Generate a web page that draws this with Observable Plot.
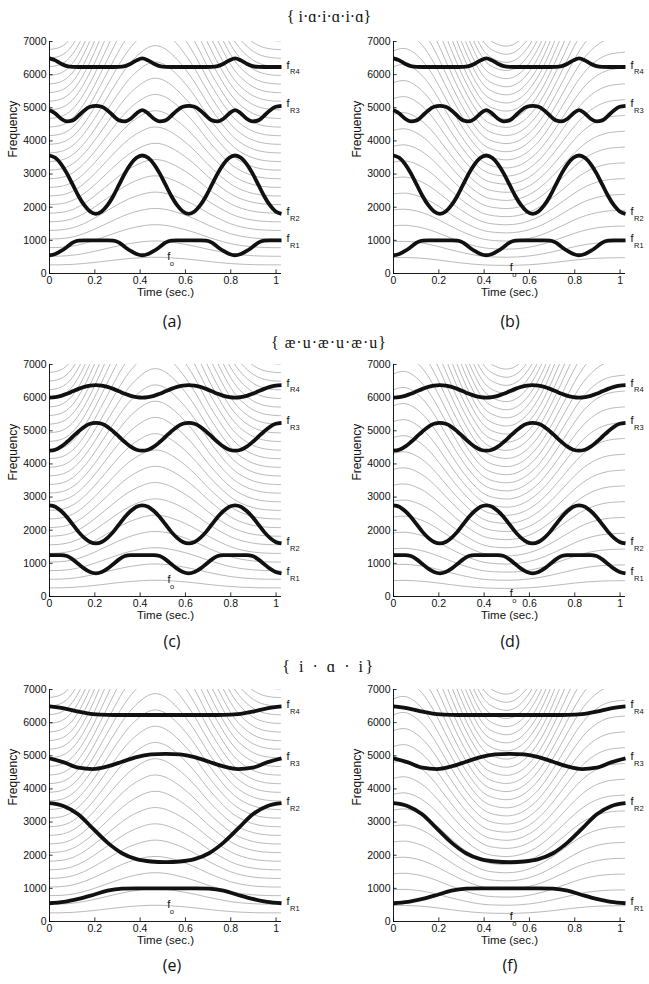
<!DOCTYPE html>
<html><head><meta charset="utf-8">
<script src="https://cdn.jsdelivr.net/npm/d3@7"></script>
<script src="https://cdn.jsdelivr.net/npm/@observablehq/plot@0.6"></script>
<style>
body{margin:0;background:#fff;}
#fig{position:relative;width:649px;height:984px;overflow:hidden;background:#fff;}
.panel{position:absolute;width:325px;height:300px;}
.panel svg{max-width:none !important;display:block;}
.title{position:absolute;font-family:"Liberation Serif","DejaVu Serif",serif;font-size:16px;transform:translate(-50%,-50%);white-space:pre;color:#111;}
.plabel{position:absolute;font-family:"Open Sans",sans-serif;font-size:16px;transform:translate(-50%,-50%);color:#111;}
</style></head><body><div id="fig"></div>
<script>
// ---------- data ----------
const titles = ["{ i·ɑ·i·ɑ·i·ɑ}", "{ æ·u·æ·u·æ·u}", "{ i · ɑ · i}"];
const panelNames = ["(a)", "(b)", "(c)", "(d)", "(e)", "(f)"];
const xTicks = [0, 0.2, 0.4, 0.6, 0.8, 1];
const yTicks = [0, 1000, 2000, 3000, 4000, 5000, 6000, 7000];
const resLabels = ["R1", "R2", "R3", "R4"];
const harmonicNumbers = [1,2,3,4,5,6,7,8,9,10,11,12,13,14,15,16,17,18,19,20,21,22,23,24,25,26,27,28,29,30];

// fundamental frequency tracks
const tF0 = [0,0.05,0.1,0.15,0.2,0.25,0.3,0.35,0.4,0.45,0.5,0.55,0.6,0.65,0.7,0.75,0.8,0.85,0.9,0.95,1.0,1.024];
const f0Rise = [260,263,275,300,335,375,415,450,475,490,487,468,440,405,365,330,300,280,268,262,260,260];
const f0Fall = [480,485,472,445,405,360,318,283,258,248,245,250,265,290,325,365,405,438,460,472,476,477];

// resonance tracks, fast sequences
const tFast = [0,0.0256,0.0512,0.0768,0.1024,0.128,0.1536,0.1792,0.2048,0.2304,0.256,0.2816,0.3072,0.3328,0.3584,0.384,0.4096,0.4352,0.4608,0.4864,0.512,0.5376,0.5632,0.5888,0.6144,0.64,0.6656,0.6912,0.7168,0.7424,0.768,0.7936,0.8192,0.8448,0.8704,0.896,0.9216,0.9472,0.9728,0.9984,1.024];
const ia_R1 = [550,590,680,800,930,990,1000,1000,1000, 1000,1000,990,930,800,680,590,550, 590,680,800,930,990,1000,1000,1000, 1000,1000,990,930,800,680,590,550, 590,680,800,930,990,1000,1000,1000];
const ia_R2 = [3560,3490,3300,3020,2680,2340,2060,1870,1800, 1870,2060,2340,2680,3020,3300,3490,3560, 3490,3300,3020,2680,2340,2060,1870,1800, 1870,2060,2340,2680,3020,3300,3490,3560, 3490,3300,3020,2680,2340,2060,1870,1800];
const ia_R3 = [4930,4830,4670,4590,4620,4760,4920,5030,5060, 5030,4920,4760,4620,4590,4670,4830,4930, 4830,4670,4590,4620,4760,4920,5030,5060, 5030,4920,4760,4620,4590,4670,4830,4930, 4830,4670,4590,4620,4760,4920,5030,5060];
const ia_R4 = [6490,6430,6330,6255,6232,6230,6230,6230,6230, 6230,6230,6230,6232,6255,6330,6430,6490, 6430,6330,6255,6232,6230,6230,6230,6230, 6230,6230,6230,6232,6255,6330,6430,6490, 6430,6330,6255,6232,6230,6230,6230,6230];
const au_R1 = [1250,1250,1250,1220,1120,980,840,740,700, 740,840,980,1120,1220,1250,1250,1250, 1250,1250,1220,1120,980,840,740,700, 740,840,980,1120,1220,1250,1250,1250, 1250,1250,1220,1120,980,840,740,700];
const au_R2 = [2750,2710,2580,2400,2175,1950,1770,1645,1600, 1645,1770,1950,2175,2400,2580,2710,2750, 2710,2580,2400,2175,1950,1770,1645,1600, 1645,1770,1950,2175,2400,2580,2710,2750, 2710,2580,2400,2175,1950,1770,1645,1600];
const au_R3 = [4400,4430,4520,4660,4820,4980,5120,5210,5240, 5210,5120,4980,4820,4660,4520,4430,4400, 4430,4520,4660,4820,4980,5120,5210,5240, 5210,5120,4980,4820,4660,4520,4430,4400, 4430,4520,4660,4820,4980,5120,5210,5240];
const au_R4 = [6000,6015,6055,6115,6190,6265,6325,6365,6380, 6365,6325,6265,6190,6115,6055,6015,6000, 6015,6055,6115,6190,6265,6325,6365,6380, 6365,6325,6265,6190,6115,6055,6015,6000, 6015,6055,6115,6190,6265,6325,6365,6380];

// resonance tracks, slow sequence
const tSlow = [0,0.064,0.128,0.192,0.256,0.32,0.384,0.448,0.512,0.576,0.64,0.704,0.768,0.832,0.896,0.96,1.024];
const iai_R1 = [550,590,680,800,930,990,1000,1000,1000,1000,1000,990,930,800,680,590,550];
const iai_R2 = [3570,3480,3230,2800,2380,2060,1880,1810,1790,1810,1880,2060,2380,2800,3230,3480,3570];
const iai_R3 = [4920,4800,4640,4600,4680,4820,4960,5040,5060,5040,4960,4820,4680,4600,4640,4800,4920];
const iai_R4 = [6490,6430,6330,6255,6232,6230,6230,6230,6230,6230,6230,6230,6232,6255,6330,6430,6490];

// f0 label anchors (time, frequency) per panel
const f0LabelT = [0.527, 0.52, 0.528, 0.52, 0.527, 0.52];
const f0LabelF = [505, 180, 502, 80, 502, 150];

// ---------- layout ----------
const fig = document.getElementById("fig");
const colLeft = [0, 343.7];
const rowTop = [0, 323.4, 648.4];
const titleY = [16.7, 343.3, 666.7];
const titleSpacing = ["0px", "1px", "2.5px"];
const labelY = [321, 641, 965];
const labelX = [172, 510];

const sets = [
  {t: tFast, R: [ia_R1, ia_R2, ia_R3, ia_R4]},
  {t: tFast, R: [au_R1, au_R2, au_R3, au_R4]},
  {t: tSlow, R: [iai_R1, iai_R2, iai_R3, iai_R4]}
];

function makePanel(set, f0, pIndex) {
  const harm = [];
  for (const k of harmonicNumbers) tF0.forEach((t, i) => harm.push({k, t, f: k * f0[i]}));
  const res = [];
  set.R.forEach((arr, j) => arr.forEach((v, i) => res.push({r: j + 1, t: set.t[i], f: v})));
  const tEnd = set.t[set.t.length - 1];
  const ends = set.R.map((arr, j) => ({t: tEnd, f: arr[arr.length - 1], sub: resLabels[j]}));
  const f0lab = [{t: f0LabelT[pIndex], f: f0LabelF[pIndex]}];
  const txt = {fill: "#111", fontFamily: "Liberation Sans, Arial, sans-serif"};
  return Plot.plot({
    width: 325, height: 300,
    marginLeft: 49, marginRight: 44, marginTop: 41, marginBottom: 27,
    x: {domain: [0, 1.024]},
    y: {domain: [0, 7000]},
    style: {fontFamily: "Liberation Sans, Arial, sans-serif", fontSize: "10.5px", background: "transparent", overflow: "visible", color: "#111"},
    marks: [
      Plot.line(harm, {x: "t", y: "f", z: "k", stroke: "#a3a3a3", strokeWidth: 0.75, curve: "natural", clip: true}),
      Plot.line(res, {x: "t", y: "f", z: "r", stroke: "#111", strokeWidth: 3.8, curve: "monotone-x", strokeLinecap: "butt"}),
      Plot.ruleX([0], {stroke: "#000", strokeWidth: 0.9}),
      Plot.ruleY([0], {stroke: "#000", strokeWidth: 0.9}),
      Plot.ruleX(xTicks, {y1: 0, y2: 110, stroke: "#000", strokeWidth: 0.8}),
      Plot.ruleY(yTicks, {x1: 0, x2: 0.016, stroke: "#000", strokeWidth: 0.8}),
      Plot.axisX({ticks: xTicks, tickSize: 0, tickPadding: 3, tickFormat: d => String(d), label: null, fontSize: 10.5}),
      Plot.axisY({ticks: yTicks, tickSize: 0, tickPadding: 3, tickFormat: d => String(d), label: null, fontSize: 10.5}),
      Plot.text(["Time (sec.)"], {text: d => d, frameAnchor: "bottom", dy: 22, fontSize: 11.5, ...txt}),
      Plot.text(["Frequency"], {text: d => d, frameAnchor: "left", dx: -36, rotate: -90, fontSize: 12, ...txt}),
      Plot.text(ends, {x: "t", y: "f", text: () => "f", dx: 5, dy: -2, textAnchor: "start", fontSize: 11, ...txt}),
      Plot.text(ends, {x: "t", y: "f", text: "sub", dx: 8.5, dy: 5, textAnchor: "start", fontSize: 7.5, ...txt}),
      Plot.text(f0lab, {x: "t", y: "f", text: () => "f", fontSize: 11, ...txt}),
      Plot.text(f0lab, {x: "t", y: "f", text: () => "o", dx: 3, dy: 7, fontSize: 7.5, ...txt})
    ]
  });
}

for (let row = 0; row < 3; row++) {
  const tt = document.createElement("div");
  tt.className = "title";
  tt.textContent = titles[row];
  tt.style.left = "329px";
  tt.style.top = titleY[row] + "px";
  tt.style.letterSpacing = titleSpacing[row];
  fig.appendChild(tt);
  for (let col = 0; col < 2; col++) {
    const pIndex = row * 2 + col;
    const svg = makePanel(sets[row], col === 0 ? f0Rise : f0Fall, pIndex);
    const wrap = document.createElement("div");
    wrap.className = "panel";
    wrap.style.left = colLeft[col] + "px";
    wrap.style.top = rowTop[row] + "px";
    wrap.appendChild(svg);
    fig.appendChild(wrap);
    const lab = document.createElement("div");
    lab.className = "plabel";
    lab.textContent = panelNames[pIndex];
    lab.style.left = labelX[col] + "px";
    lab.style.top = labelY[row] + "px";
    fig.appendChild(lab);
  }
}
</script></body></html>
